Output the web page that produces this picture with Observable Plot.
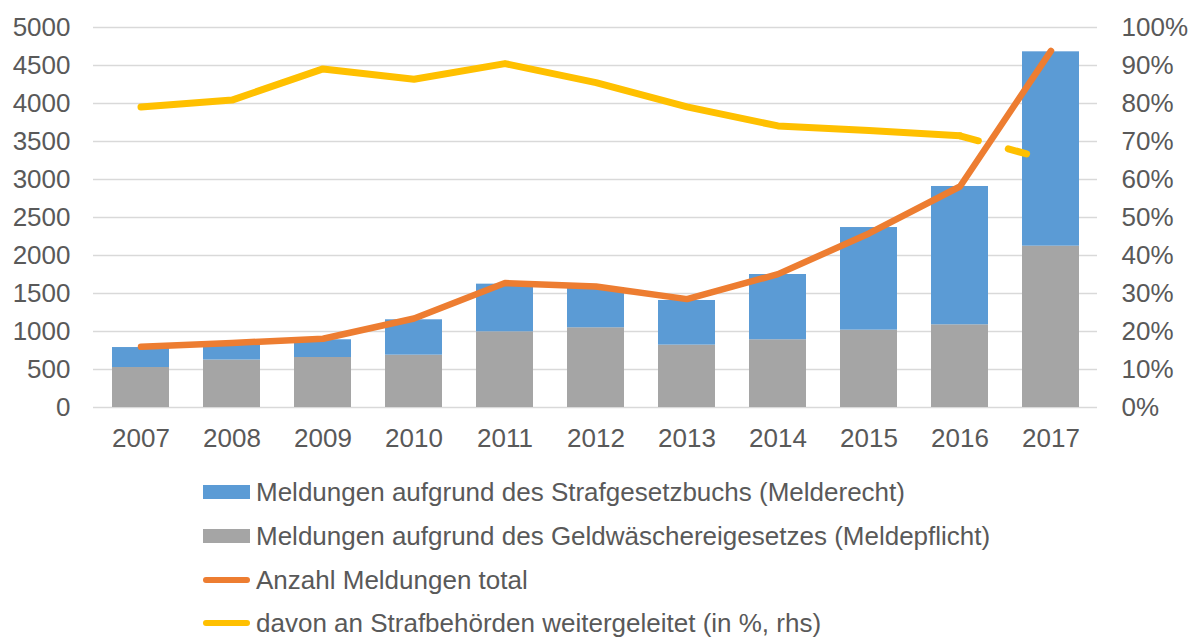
<!DOCTYPE html>
<html>
<head>
<meta charset="utf-8">
<script src="https://cdn.jsdelivr.net/npm/d3@7"></script>
<script src="https://cdn.jsdelivr.net/npm/@observablehq/plot@0.6"></script>
<style>
  body { margin: 0; background: #fff; font-family: "Liberation Sans", Arial, sans-serif; color: #595959; }
  #chart svg { display: block; }
  #legend { position: relative; height: 167px; width: 1189px; }
  .row { position: absolute; left: 203px; height: 44px; display: flex; align-items: center; font-size: 26px; white-space: nowrap; }
  .sw { display: inline-block; width: 47px; margin-right: 6px; }
  .sw.bar { height: 14px; }
  .sw.line { height: 6px; border-radius: 3px; }
</style>
</head>
<body>
<div id="chart"></div>
<div id="legend"></div>
<script>
const years = ["2007","2008","2009","2010","2011","2012","2013","2014","2015","2016","2017"];
// Meldungen aufgrund des Geldwäschereigesetzes (Meldepflicht)
const geldwg = [526, 625, 658, 689, 996, 1049, 821, 891, 1018, 1088, 2123];
// Meldungen aufgrund des Strafgesetzbuchs (Melderecht)
const strafgb = [263, 220, 233, 465, 627, 530, 587, 859, 1350, 1820, 2557];
// Anzahl Meldungen total
const total = [799, 850, 905, 1171, 1637, 1592, 1426, 1755, 2290, 2908, 4693];
// davon an Strafbehörden weitergeleitet (in %)
const pctForwarded = [79.1, 80.9, 89.1, 86.4, 90.5, 85.5, 79.1, 74.1, 72.9, 71.5, 65.0];

const yTicks = [0, 500, 1000, 1500, 2000, 2500, 3000, 3500, 4000, 4500, 5000];
const pctTicks = [0, 10, 20, 30, 40, 50, 60, 70, 80, 90, 100];

const seriesNames = [
  "Meldungen aufgrund des Strafgesetzbuchs (Melderecht)",
  "Meldungen aufgrund des Geldwäschereigesetzes (Meldepflicht)",
  "Anzahl Meldungen total",
  "davon an Strafbehörden weitergeleitet (in %, rhs)"
];
const colors = { stgb: "#5B9BD5", gwg: "#A5A5A5", total: "#ED7D31", pct: "#FFC000" };

const Y_MAX = 5000, P_MAX = 100;
const pctToY = p => p * Y_MAX / P_MAX;

const bars = years.flatMap((y, i) => [
  { year: y, series: "gwg", value: geldwg[i] },
  { year: y, series: "stgb", value: strafgb[i] }
]);
const lines = years.map((y, i) => ({ year: y, total: total[i], pct: pctForwarded[i] }));

const FS = 26;
const chart = Plot.plot({
  width: 1189,
  height: 470,
  marginLeft: 93,
  marginRight: 92,
  marginTop: 27,
  marginBottom: 63,
  style: { fontFamily: "Liberation Sans, Arial, sans-serif", fontSize: FS + "px", color: "#595959", background: "#fff" },
  x: { domain: years, paddingInner: 0.375, paddingOuter: 0.1875, axis: null },
  y: { domain: [0, Y_MAX], axis: null },
  color: { domain: ["gwg", "stgb"], range: [colors.gwg, colors.stgb] },
  marks: [
    Plot.gridY(yTicks, { stroke: "#D9D9D9", strokeOpacity: 1, strokeWidth: 1.3 }),
    Plot.axisY({ anchor: "left", ticks: yTicks, tickSize: 0, tickPadding: 23, label: null, fontSize: FS, color: "#595959",
      tickFormat: d => String(d) }),
    Plot.axisY({ anchor: "right", ticks: pctTicks.map(pctToY), tickSize: 0, tickPadding: 24, label: null, fontSize: FS, color: "#595959",
      tickFormat: d => `${Math.round(d * P_MAX / Y_MAX)}%` }),
    Plot.axisX({ tickSize: 0, tickPadding: 21, label: null, fontSize: FS, color: "#595959" }),
    Plot.barY(bars, { x: "year", y: "value", fill: "series" }),
    Plot.line(lines.slice(0, 10), { x: "year", y: d => pctToY(d.pct), stroke: colors.pct, strokeWidth: 7, strokeLinecap: "round", strokeLinejoin: "round" }),
    Plot.line(lines.slice(9), { x: "year", y: d => pctToY(d.pct), stroke: colors.pct, strokeWidth: 7, strokeLinecap: "round", strokeDasharray: "19,31" }),
    Plot.line(lines, { x: "year", y: "total", stroke: colors.total, strokeWidth: 6.5, strokeLinecap: "round", strokeLinejoin: "round" })
  ]
});
document.getElementById("chart").append(chart);

const legend = document.getElementById("legend");
const legendItems = [
  { name: seriesNames[0], color: colors.stgb, kind: "bar" },
  { name: seriesNames[1], color: colors.gwg, kind: "bar" },
  { name: seriesNames[2], color: colors.total, kind: "line" },
  { name: seriesNames[3], color: colors.pct, kind: "line" }
];
const rowTops = [0, 44, 88, 131];
legendItems.forEach((it, i) => {
  const row = document.createElement("div");
  row.className = "row";
  row.style.top = rowTops[i] + "px";
  const sw = document.createElement("span");
  sw.className = "sw " + it.kind;
  sw.style.background = it.color;
  const tx = document.createElement("span");
  tx.textContent = it.name;
  row.append(sw, tx);
  legend.append(row);
});
</script>
</body>
</html>
